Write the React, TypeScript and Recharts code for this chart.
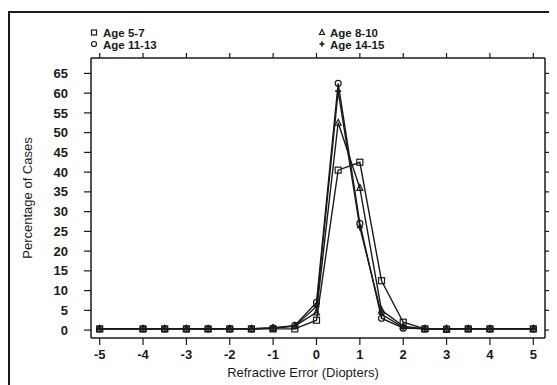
import {
  LineChart,
  Line,
  XAxis,
  YAxis,
  Legend,
  Label,
} from "recharts";

const diopters = [-5, -4, -3.5, -3, -2.5, -2, -1.5, -1, -0.5, 0, 0.5, 1, 1.5, 2, 2.5, 3, 3.5, 4, 5];
const age5to7 = [0.3, 0.3, 0.3, 0.3, 0.3, 0.3, 0.3, 0.3, 0.3, 2.5, 40.5, 42.5, 12.5, 2, 0.3, 0.2, 0.3, 0.3, 0.3];
const age8to10 = [0.3, 0.3, 0.3, 0.3, 0.3, 0.3, 0.3, 0.5, 1.0, 4.5, 52.5, 36, 5, 1, 0.3, 0.3, 0.3, 0.3, 0.3];
const age11to13 = [0.3, 0.3, 0.3, 0.3, 0.3, 0.3, 0.3, 0.5, 1.2, 7, 62.5, 27, 3, 0.5, 0.3, 0.3, 0.3, 0.3, 0.3];
const age14to15 = [0.3, 0.3, 0.3, 0.3, 0.3, 0.3, 0.3, 0.6, 1.0, 6, 60.5, 26, 4, 0.7, 0.3, 0.3, 0.3, 0.3, 0.3];
const xTicks = [-5, -4, -3, -2, -1, 0, 1, 2, 3, 4, 5];
const yTicks = [0, 5, 10, 15, 20, 25, 30, 35, 40, 45, 50, 55, 60, 65];

const data = diopters.map((d, i) => ({
  d,
  a: age5to7[i],
  b: age8to10[i],
  c: age11to13[i],
  e: age14to15[i],
}));

const INK = "#1a1a1a";
const FONT = "'Liberation Sans', Arial, sans-serif";

type Shape = "square" | "circle" | "triangle" | "plus";

function marker(shape: Shape, x: number, y: number, s = 3) {
  const common = { fill: "none", stroke: INK, strokeWidth: 1.2 };
  if (shape === "square") return <rect x={x - s} y={y - s} width={s * 2} height={s * 2} {...common} />;
  if (shape === "circle") return <circle cx={x} cy={y} r={s} {...common} />;
  if (shape === "triangle")
    return <polygon points={`${x},${y - s - 0.5} ${x - s},${y + s - 0.5} ${x + s},${y + s - 0.5}`} {...common} />;
  return (
    <path d={`M${x - s},${y}H${x + s}M${x},${y - s}V${y + s}`} {...common} strokeWidth={1.6} />
  );
}

const dotOf = (shape: Shape) => (props: any) => (
  <g key={`${shape}-${props.index}`}>{marker(shape, props.cx, props.cy)}</g>
);

const emptyTick = () => <g />;

function LegendBlock() {
  const t = { fontFamily: FONT, fontSize: 11.5, fontWeight: 700, fill: INK };
  return (
    <svg width={547} height={45}>
      {marker("square", 84, 19.5, 2.5)}
      <text x={93} y={24} {...t}>Age 5-7</text>
      {marker("circle", 84, 31, 2.5)}
      <text x={93} y={36} {...t}>Age 11-13</text>
      {marker("triangle", 312, 19.5, 2.5)}
      <text x={320} y={24} {...t}>Age 8-10</text>
      {marker("plus", 312, 31, 2.5)}
      <text x={320} y={36} {...t}>Age 14-15</text>
    </svg>
  );
}

export default function App() {
  const tickStyle = { fontSize: 13, fontWeight: 700, fill: INK, fontFamily: FONT };
  const axisLine = { stroke: INK, strokeWidth: 1.5 };
  return (
    <div
      style={{
        position: "relative",
        marginTop: 3,
        width: 549,
        height: 374,
        borderTop: `2px solid ${INK}`,
        borderLeft: `2px solid ${INK}`,
        boxSizing: "border-box",
        overflow: "hidden",
        background: "#fff",
      }}
    >
      <LineChart
        width={547}
        height={372}
        data={data}
        margin={{ top: 39, right: 0, left: 0, bottom: 17 }}
        style={{ position: "absolute", left: 0, top: 0 }}
      >
        <Legend
          layout="vertical"
          align="center"
          verticalAlign="middle"
          content={() => <LegendBlock />}
          wrapperStyle={{ top: 0, left: 0, width: 547, height: 45 }}
        />
        <XAxis
          xAxisId="bottom"
          dataKey="d"
          type="number"
          domain={[-5.2, 5.27]}
          allowDataOverflow
          ticks={xTicks}
          interval={0}
          height={30}
          tickSize={7}
          tickMargin={5}
          tick={tickStyle}
          axisLine={axisLine}
          tickLine={{ stroke: INK, strokeWidth: 1.2 }}
        >
          <Label
            content={(p: any) => (
              <text
                x={p.viewBox.x + p.viewBox.width / 2 - 15}
                y={364}
                textAnchor="middle"
                style={{ fontFamily: FONT, fontSize: 13, fill: INK }}
              >
                Refractive Error (Diopters)
              </text>
            )}
          />
        </XAxis>
        <XAxis
          xAxisId="top"
          dataKey="d"
          type="number"
          orientation="top"
          domain={[-5.2, 5.27]}
          allowDataOverflow
          ticks={xTicks}
          interval={0}
          height={6}
          tickSize={5}
          tick={emptyTick}
          axisLine={axisLine}
          tickLine={{ stroke: INK, strokeWidth: 1.2 }}
        />
        <YAxis
          yAxisId="left"
          type="number"
          domain={[-2, 68.9]}
          allowDataOverflow
          ticks={yTicks}
          interval={0}
          width={81}
          tickSize={7}
          tickMargin={16}
          tick={tickStyle}
          axisLine={axisLine}
          tickLine={{ stroke: INK, strokeWidth: 1.2 }}
        >
          <Label
            content={(p: any) => {
              const cy = p.viewBox.y + p.viewBox.height / 2;
              return (
                <text
                  x={17}
                  y={cy}
                  transform={`rotate(-90 17 ${cy})`}
                  textAnchor="middle"
                  dominantBaseline="central"
                  style={{ fontFamily: FONT, fontSize: 13, fill: INK }}
                >
                  Percentage of Cases
                </text>
              );
            }}
          />
        </YAxis>
        <YAxis
          yAxisId="right"
          orientation="right"
          type="number"
          domain={[-2, 68.9]}
          allowDataOverflow
          ticks={yTicks}
          interval={0}
          width={12}
          tickSize={6}
          tick={emptyTick}
          axisLine={axisLine}
          tickLine={{ stroke: INK, strokeWidth: 1.2 }}
        />
        <Line xAxisId="bottom" yAxisId="left" dataKey="a" name="Age 5-7" stroke={INK} strokeWidth={1.4} dot={dotOf("square")} activeDot={false} isAnimationActive={false} />
        <Line xAxisId="bottom" yAxisId="left" dataKey="b" name="Age 8-10" stroke={INK} strokeWidth={1.4} dot={dotOf("triangle")} activeDot={false} isAnimationActive={false} />
        <Line xAxisId="bottom" yAxisId="left" dataKey="c" name="Age 11-13" stroke={INK} strokeWidth={1.4} dot={dotOf("circle")} activeDot={false} isAnimationActive={false} />
        <Line xAxisId="bottom" yAxisId="left" dataKey="e" name="Age 14-15" stroke={INK} strokeWidth={1.4} dot={dotOf("plus")} activeDot={false} isAnimationActive={false} />
      </LineChart>
    </div>
  );
}
